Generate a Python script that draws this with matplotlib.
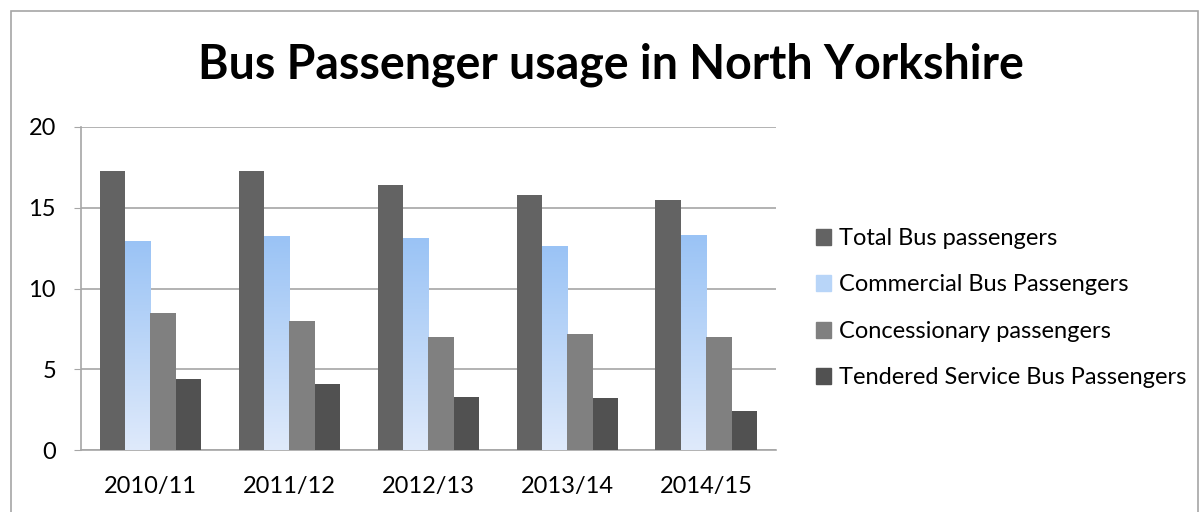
import numpy as np
import matplotlib
matplotlib.use("Agg")
import matplotlib.pyplot as plt
from matplotlib.patches import Rectangle
from matplotlib.colors import LinearSegmentedColormap

plt.rcParams['font.family'] = ['Lato', 'DejaVu Sans']

years = ["2010/11", "2011/12", "2012/13", "2013/14", "2014/15"]
total_bus = [17.3, 17.3, 16.4, 15.8, 15.5]
commercial = [12.9, 13.2, 13.1, 12.6, 13.3]
concessionary = [8.5, 8.0, 7.0, 7.2, 7.0]
tendered = [4.4, 4.1, 3.3, 3.2, 2.4]

series = [
    ("Total Bus passengers", total_bus, "#636363"),
    ("Commercial Bus Passengers", commercial, "#a9ccf6"),
    ("Concessionary passengers", concessionary, "#808080"),
    ("Tendered Service Bus Passengers", tendered, "#515151"),
]

fig = plt.figure(figsize=(12, 5.12), dpi=100)
ax = fig.add_axes([0.0675, 0.121, 0.579, 0.631])

# outer chart border
fig.patches.append(Rectangle((11 / 1200, -0.05), 1187 / 1200, 1 - 11 / 512 + 0.05,
                             transform=fig.transFigure, fill=False,
                             edgecolor="#a6a6a6", linewidth=1.2))

x = np.arange(len(years))
w = 0.183
blue_grad = LinearSegmentedColormap.from_list("blue", ["#dfeafb", "#9ac3f5"])
for i, (name, vals, color) in enumerate(series):
    offs = (i - 1.5) * w
    bars = ax.bar(x + offs, vals, w, color=color, zorder=3, label=name)
    if i == 1:
        # vertical gradient fill for the commercial bars
        grad = np.linspace(0, 1, 256).reshape(-1, 1)
        for b in bars:
            b.set_facecolor("none")
            bx, by = b.get_x(), b.get_y()
            bw, bh = b.get_width(), b.get_height()
            ax.imshow(grad, cmap=blue_grad, origin="lower", aspect="auto",
                      extent=(bx, bx + bw, by, by + bh), zorder=3)

ax.set_xlim(-0.5, len(years) - 0.5)
ax.set_ylim(0, 20)
ax.set_yticks([0, 5, 10, 15, 20])
ax.set_xticks(x)
ax.set_xticklabels(years)
ax.tick_params(axis="both", labelsize=17, colors="#a6a6a6", labelcolor="black")
ax.tick_params(axis="x", length=0, pad=19)
ax.tick_params(axis="y", length=5, pad=13)
ax.grid(axis="y", color="#a6a6a6", linewidth=1.2, zorder=0)
for side in ["top", "right"]:
    ax.spines[side].set_visible(False)
for side in ["left", "bottom"]:
    ax.spines[side].set_color("#a6a6a6")
    ax.spines[side].set_linewidth(1.2)

fig.text(0.509, 0.873, "Bus Passenger usage in North Yorkshire",
         ha="center", va="center", fontsize=33.5, fontweight="bold")

leg_handles = [Rectangle((0, 0), 1, 1, color=c) for _, _, c in series]
leg_handles[1] = Rectangle((0, 0), 1, 1, color="#b8d5f8")
fig.legend(leg_handles, [s[0] for s in series], loc="center left",
           bbox_to_anchor=(0.662, 0.398), frameon=False, fontsize=17,
           handlelength=0.65, handleheight=0.65, handletextpad=0.35,
           labelspacing=1.08)

fig.savefig("out.png", dpi=100)
